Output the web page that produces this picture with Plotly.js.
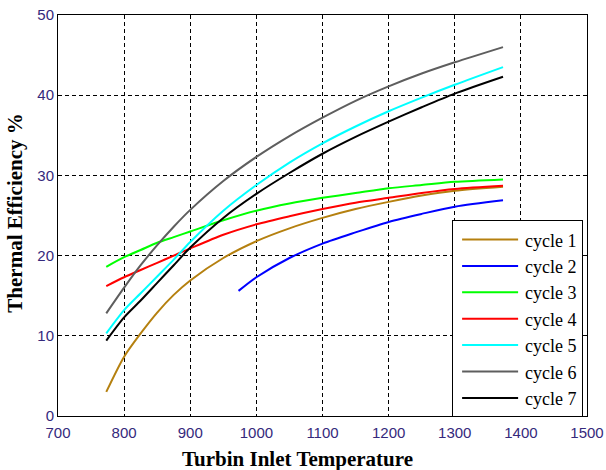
<!DOCTYPE html>
<html><head><meta charset="utf-8">
<script src="https://cdn.plot.ly/plotly-3.0.1.min.js"></script>
<style>body{margin:0;background:#fff}#chart{width:606px;height:470px}</style>
</head><body><div id="chart"></div>
<script>
const temps = [773, 800, 825, 850, 875, 900, 950, 1000, 1050, 1100, 1150, 1200, 1250, 1300, 1373];
const tempsC2 = [973, 1000, 1050, 1100, 1150, 1200, 1250, 1300, 1373];
const cycle1 = [3.0, 7.4, 10.3, 12.9, 15.1, 16.9, 19.7, 21.8, 23.4, 24.7, 25.8, 26.7, 27.5, 28.1, 28.6];
const cycle2 = [15.6, 17.3, 19.7, 21.5, 22.9, 24.2, 25.2, 26.1, 26.9];
const cycle3 = [18.6, 19.8, 20.7, 21.6, 22.3, 23.0, 24.4, 25.6, 26.5, 27.2, 27.8, 28.4, 28.8, 29.2, 29.5];
const cycle4 = [16.2, 17.3, 18.2, 19.1, 20.0, 20.9, 22.6, 23.9, 24.9, 25.8, 26.6, 27.2, 27.8, 28.3, 28.7];
const cycle5 = [10.3, 13.2, 15.3, 17.4, 19.5, 21.7, 25.6, 28.8, 31.6, 34.0, 36.1, 38.0, 39.7, 41.3, 43.5];
const cycle6 = [12.8, 16.0, 18.8, 21.3, 23.6, 25.7, 29.3, 32.3, 34.9, 37.2, 39.3, 41.1, 42.7, 44.1, 46.0];
const cycle7 = [9.4, 12.3, 14.4, 16.6, 18.8, 21.0, 24.7, 27.7, 30.3, 32.7, 34.8, 36.7, 38.5, 40.2, 42.3];
const names = ['cycle 1','cycle 2','cycle 3','cycle 4','cycle 5','cycle 6','cycle 7'];
const colors = ['#b5800f','#0000ff','#00ff00','#ff0000','#00ffff','#5e5e5e','#000000'];
const xTitle = 'Turbin Inlet Temperature';
const yTitle = 'Thermal Efficiency %';

const series = [cycle1, cycle2, cycle3, cycle4, cycle5, cycle6, cycle7];
const traces = series.map((ys, i) => ({
  x: i === 1 ? tempsC2 : temps,
  y: ys,
  name: names[i],
  type: 'scatter',
  mode: 'lines',
  line: {color: colors[i], width: 2, shape: 'spline', smoothing: 0.8}
}));

const tickFont = {family: 'Liberation Sans, Arial, sans-serif', size: 15, color: '#35297c'};
const titleFont = {family: 'Liberation Serif, Times New Roman, serif', size: 21, color: '#000'};
const layout = {
  width: 606, height: 470,
  margin: {l: 58, r: 19, t: 15, b: 54},
  paper_bgcolor: '#fff', plot_bgcolor: '#fff',
  showlegend: true,
  legend: {
    x: 0.745, y: 0.488, xanchor: 'left', yanchor: 'top',
    bgcolor: '#fff', bordercolor: '#000', borderwidth: 1,
    font: {family: 'Liberation Serif, Times New Roman, serif', size: 18, color: '#000'},
    tracegroupgap: 0, itemwidth: 62
  },
  xaxis: {
    range: [700, 1500], dtick: 100, tick0: 700,
    showgrid: true, gridcolor: '#000', gridwidth: 1, griddash: '4px,3px',
    zeroline: false, showline: true, linecolor: '#000', linewidth: 1, mirror: true,
    ticks: '', tickfont: tickFont, ticklabelstandoff: 3
  },
  yaxis: {
    range: [0, 50], dtick: 10,
    showgrid: true, gridcolor: '#000', gridwidth: 1, griddash: '4px,3px',
    zeroline: false, showline: true, linecolor: '#000', linewidth: 1, mirror: true,
    ticks: '', tickfont: tickFont
  },
  annotations: [
    {text: '<b>' + xTitle + '</b>', font: titleFont, showarrow: false,
     xref: 'paper', yref: 'paper', x: 0.452, y: -0.108, xanchor: 'center', yanchor: 'middle'},
    {text: '<b>' + yTitle + '</b>', font: titleFont, showarrow: false, textangle: -90,
     xref: 'paper', yref: 'paper', x: -0.081, y: 0.505, xanchor: 'center', yanchor: 'middle'}
  ]
};
Plotly.newPlot('chart', traces, layout, {displayModeBar: false, staticPlot: true}).then(() => {
  document.querySelectorAll('#chart .legend .legendlines path').forEach(p => p.setAttribute('d', 'M9,0h56'));
});
</script>
</body></html>
